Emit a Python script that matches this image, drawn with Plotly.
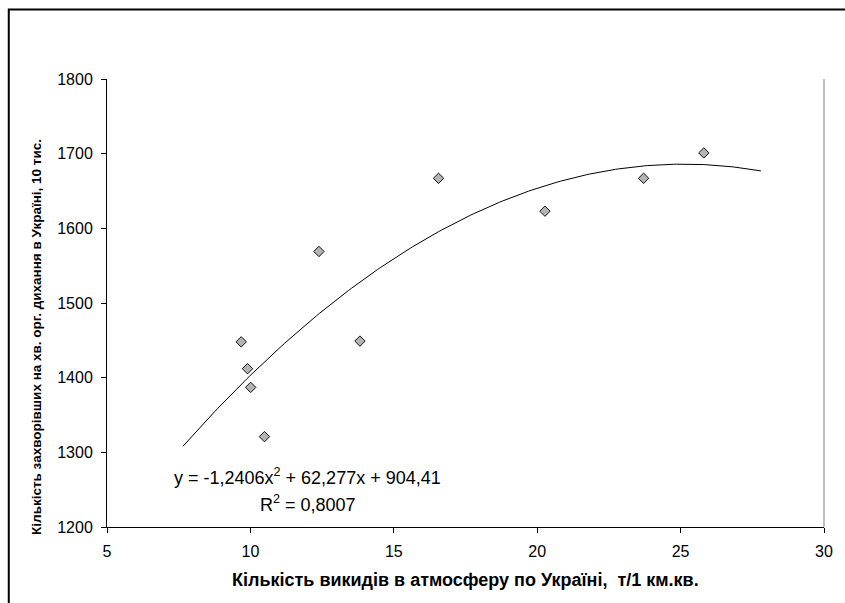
import numpy as np
import plotly.graph_objects as go

# Emissions (t per 1 sq. km) vs. respiratory disease cases (per 10 thousand)
emissions = [9.68, 9.90, 10.01, 10.49, 12.39, 13.82, 16.56, 20.27, 23.71, 25.81]
cases = [1448, 1412, 1387, 1321, 1569, 1449, 1667, 1623, 1667, 1701]

# Polynomial trend line (2nd order) as stated in the equation label
coef_a, coef_b, coef_c = -1.2406, 62.277, 904.41
trend_from, trend_to = 7.65, 27.8

x_ticks = [5, 10, 15, 20, 25, 30]
y_ticks = [1200, 1300, 1400, 1500, 1600, 1700, 1800]

FONT = "Liberation Sans, Arial, sans-serif"

tx = np.linspace(trend_from, trend_to, 200)
ty = coef_a * tx**2 + coef_b * tx + coef_c

fig = go.Figure()
fig.add_trace(go.Scatter(
    x=tx, y=ty, mode="lines",
    line=dict(color="black", width=1),
    hoverinfo="skip", showlegend=False,
))
fig.add_trace(go.Scatter(
    x=emissions, y=cases, mode="markers",
    marker=dict(symbol="diamond", size=8, color="#B4B4B4",
                line=dict(color="#111111", width=1)),
    showlegend=False,
))

fig.update_layout(
    width=845, height=603,
    margin=dict(l=107, r=12, t=79, b=76),
    paper_bgcolor="white", plot_bgcolor="white",
    font=dict(family=FONT, size=16, color="black"),
    xaxis=dict(range=[5, 30], tickvals=x_ticks, ticks="outside", ticklen=5,
               tickcolor="black", showline=True, linecolor="black", linewidth=1,
               showgrid=False, zeroline=False, fixedrange=True,
               ticklabelstandoff=5, tickfont=dict(size=16)),
    yaxis=dict(range=[1200, 1800], tickvals=y_ticks, ticks="outside", ticklen=5,
               tickcolor="black", showline=True, linecolor="black", linewidth=1,
               showgrid=False, zeroline=False, fixedrange=True,
               ticklabelstandoff=5, tickfont=dict(size=16)),
    shapes=[
        # right edge of the plot area
        dict(type="line", xref="paper", yref="paper", x0=1, x1=1, y0=0, y1=1,
             line=dict(color="#808080", width=1)),
        # outer chart frame
        dict(type="rect", xref="paper", yref="paper",
             x0=-0.137, x1=1.05, y0=-0.2, y1=1.155,
             line=dict(color="black", width=2)),
    ],
    annotations=[
        dict(text="<b>Кількість викидів в атмосферу по Україні,  т/1 км.кв.</b>",
             xref="paper", yref="paper", x=0.5, y=-0.118,
             xanchor="center", yanchor="middle", showarrow=False,
             font=dict(size=18)),
        dict(text="<b>Кількість захворівших на хв. орг. дихання в Україні, 10 тис.</b>",
             xref="paper", yref="paper", x=-0.0992, y=0.424, textangle=-90,
             xanchor="center", yanchor="middle", showarrow=False,
             font=dict(size=13.5)),
        dict(text="y = -1,2406x<sup>2</sup> + 62,277x + 904,41",
             xref="x", yref="y", x=12.0, y=1267,
             xanchor="center", yanchor="middle", showarrow=False,
             font=dict(size=18)),
        dict(text="R<sup>2</sup> = 0,8007",
             xref="x", yref="y", x=12.0, y=1231,
             xanchor="center", yanchor="middle", showarrow=False,
             font=dict(size=18)),
    ],
)

fig.write_html("out.html")
